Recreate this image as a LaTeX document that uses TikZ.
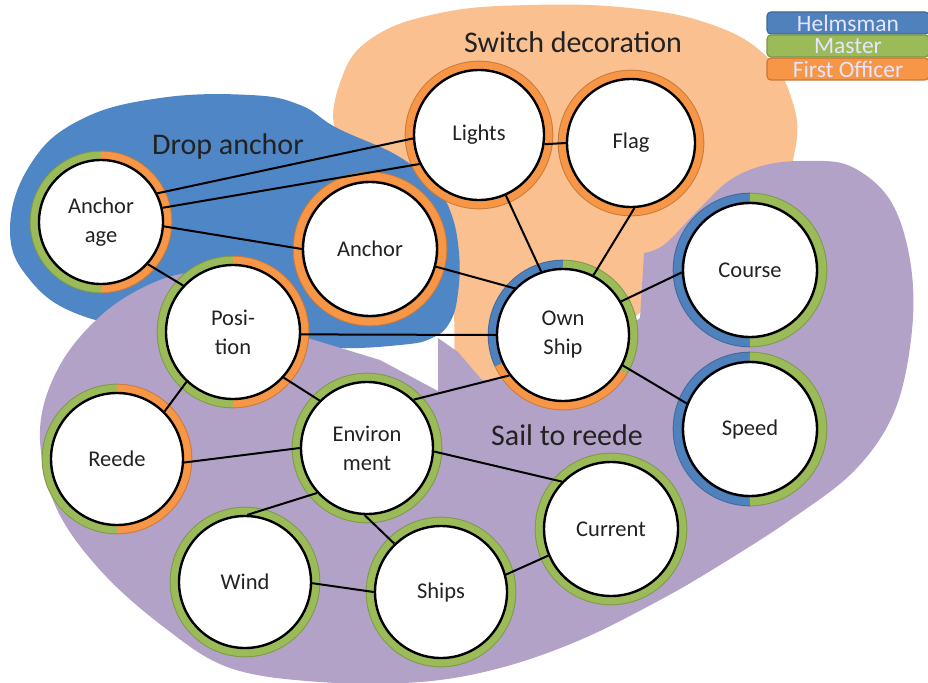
\documentclass[tikz,border=0pt]{standalone}
\usepackage{fontspec}
\setmainfont{Carlito}
\definecolor{blobblue}{HTML}{4F86C6}
\definecolor{bloborange}{HTML}{FAC090}
\definecolor{blobpurple}{HTML}{B3A2C7}
\definecolor{rblue}{HTML}{4F81BD}
\definecolor{rgreen}{HTML}{9BBB59}
\definecolor{rorange}{HTML}{F79646}
\definecolor{txt}{HTML}{222222}
\pgfdeclarelayer{bg}
\pgfdeclarelayer{rings}
\pgfsetlayers{bg,rings,main}
\newcommand{\rseg}[5]{%
  \draw[ringedge,#1!82!black] (#2) ++(#3:#5) arc[start angle=#3,end angle=#4,radius=#5];
  \draw[ringline,#1] (#2) ++(#3:#5) arc[start angle=#3,end angle=#4,radius=#5];}
\begin{document}
\begin{tikzpicture}[x=1pt,y=1pt,
  bubble/.style={circle,draw=black,line width=2.4pt,fill=white,align=center,inner sep=0pt,
    font=\fontsize{22.5}{29}\selectfont,text=txt},
  ringedge/.style={line width=9.6pt},
  ringline/.style={line width=7.6pt},
  conn/.style={draw=black,line width=2pt},
  blobtext/.style={font=\fontsize{30}{34}\selectfont,text=txt},
  legbox/.style={rounded corners=4pt,line width=1.2pt,minimum width=162pt,minimum height=22pt,
    text=white!90!blue,font=\fontsize{23.5}{23.5}\selectfont,inner sep=0pt}
]
\useasboundingbox (0,0) rectangle (928,-682);
% blobs
\begin{pgfonlayer}{bg}
\fill[bloborange] plot[smooth cycle,tension=0.7] coordinates {(337,-135) (341,-80) (372,-38) (440,-13) (530,-5) (630,-8) (710,-24) (765,-55) (792,-100) (795,-150) (770,-210) (700,-260) (620,-330) (560,-378) (490,-384) (458,-366) (452,-300) (430,-220) (380,-170)};
\fill[blobblue] plot[smooth cycle,tension=0.7] coordinates {(10,-230) (30,-165) (80,-120) (160,-98) (250,-95) (300,-105) (337,-128) (398,-156) (434,-186) (451,-213) (459,-253) (458,-293) (450,-322) (432,-338) (400,-345) (330,-348) (250,-340) (160,-330) (80,-315) (30,-280)};
\fill[blobpurple] (644,-253) -- plot[smooth,tension=0.6] coordinates {(644,-253) (665,-244) (700,-208) (730,-180) (765,-165) (805,-161) (850,-166) (890,-200) (910,-260) (912,-330) (895,-410) (855,-470) (790,-520) (720,-565) (660,-600) (580,-640) (500,-668) (420,-682) (320,-682) (230,-668) (165,-628) (100,-570) (55,-505) (40,-430) (60,-365) (105,-312) (160,-280) (205,-274) (255,-295) (301,-336)} -- (380,-360) -- (438,-391) -- (438,-338) -- (458,-352) -- (482,-380) -- (560,-380) -- (640,-318) -- cycle;
\end{pgfonlayer}
\node[blobtext] (tsw) at (573,-42) {Switch decoration};
\node[blobtext] (tda) at (228,-147) {Drop anchor};
\node[blobtext] (tsr) at (567,-435) {Sail to reede};
% legend
\node[legbox,fill=rblue,draw=rblue!80!black] (lh) at (848,-23) {Helmsman};
\node[legbox,fill=rgreen,draw=rgreen!80!black] (lm) at (848,-46) {Master};
\node[legbox,fill=rorange,draw=rorange!80!black] (lf) at (848,-69) {First Officer};
% nodes
\node[bubble,minimum size=124pt] (anch) at (101,-222) {Anchor\\age};
\node[bubble,minimum size=130pt] (lights) at (479,-135) {Lights};
\node[bubble,minimum size=128pt] (flag) at (631,-143) {Flag};
\node[bubble,minimum size=134pt] (anchor) at (370,-249) {Anchor};
\node[bubble,minimum size=132pt] (own) at (563,-335) {Own\\Ship};
\node[bubble,minimum size=134pt] (course) at (750,-270) {Course};
\node[bubble,minimum size=134pt] (speed) at (750,-429) {Speed};
\node[bubble,minimum size=134pt] (pos) at (233,-332) {Posi-\\tion};
\node[bubble,minimum size=132pt] (reede) at (117,-459) {Reede};
\node[bubble,minimum size=132pt] (env) at (367,-448) {Environ\\ment};
\node[bubble,minimum size=132pt] (wind) at (245,-582) {Wind};
\node[bubble,minimum size=132pt] (ships) at (441,-592) {Ships};
\node[bubble,minimum size=134pt] (current) at (611,-529) {Current};
% rings
\begin{pgfonlayer}{rings}
\rseg{rgreen}{anch}{90}{270}{66.5}
\rseg{rorange}{anch}{-90}{90}{66.5}
\rseg{rorange}{lights}{0}{360}{69.5}
\rseg{rorange}{flag}{0}{360}{68.5}
\rseg{rorange}{anchor}{0}{360}{72.5}
\rseg{rblue}{own}{90}{205}{70.5}
\rseg{rorange}{own}{205}{329}{70.5}
\rseg{rgreen}{own}{-31}{90}{70.5}
\rseg{rblue}{course}{90}{270}{72.5}
\rseg{rgreen}{course}{-90}{90}{72.5}
\rseg{rblue}{speed}{90}{270}{72.5}
\rseg{rgreen}{speed}{-90}{90}{72.5}
\rseg{rgreen}{pos}{90}{270}{71.5}
\rseg{rorange}{pos}{-90}{90}{71.5}
\rseg{rgreen}{reede}{90}{270}{70.5}
\rseg{rorange}{reede}{-90}{90}{70.5}
\rseg{rgreen}{env}{0}{360}{70.5}
\rseg{rgreen}{wind}{0}{360}{70.5}
\rseg{rgreen}{ships}{0}{360}{70.5}
\rseg{rgreen}{current}{0}{360}{71.5}
\end{pgfonlayer}
% connectors
\draw[conn] (anch.27) -- (lights.183);
\draw[conn] (anch.13) -- (lights.206);
\draw[conn] (anch.-4) -- (anchor.180);
\draw[conn] (anch.-42) -- (pos.137);
\draw[conn] (lights.-8) -- (flag.180);
\draw[conn] (lights.-66) -- (own.109);
\draw[conn] (flag.-87) -- (own.63);
\draw[conn] (anchor.-15) -- (own.136);
\draw[conn] (pos.-2) -- (own.180);
\draw[conn] (pos.-42) -- (env.135);
\draw[conn] (pos.-133) -- (reede.45);
\draw[conn] (own.30) -- (course.182);
\draw[conn] (own.-27) -- (speed.158);
\draw[conn] (own.217) -- (env.46);
\draw[conn] (env.180) -- (reede.-3);
\draw[conn] (env.-3) -- (current.136);
\draw[conn] (env.222) -- (wind.88);
\draw[conn] (env.-92) -- (ships.134);
\draw[conn] (wind.-1) -- (ships.180);
\draw[conn] (ships.15) -- (current.203);
\end{tikzpicture}
\end{document}
